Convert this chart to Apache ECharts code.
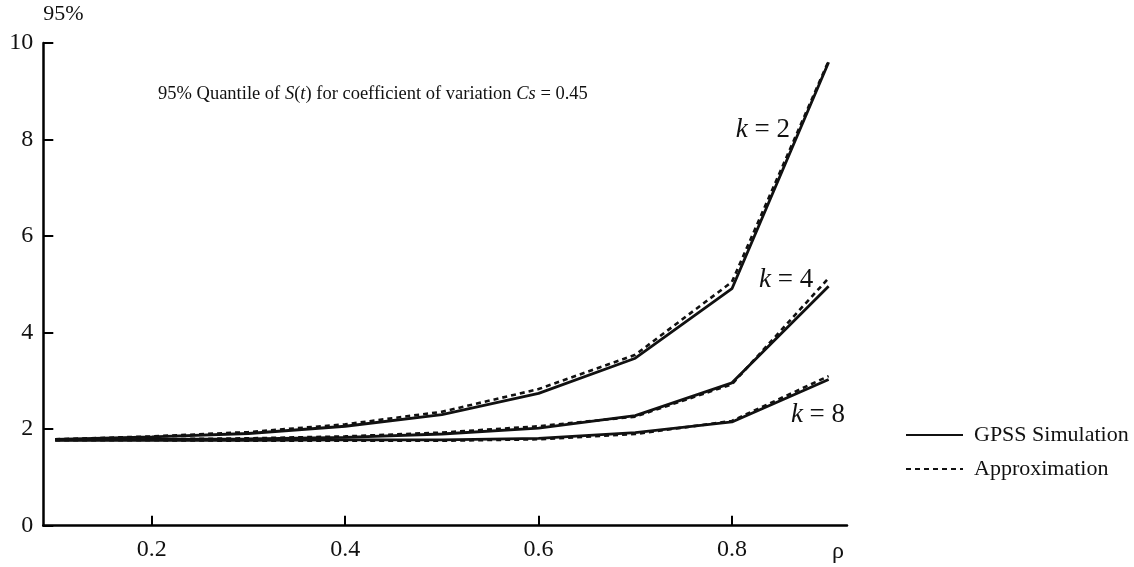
<!DOCTYPE html>
<html>
<head>
<meta charset="utf-8">
<script src="https://cdn.jsdelivr.net/npm/echarts@6/dist/echarts.min.js"></script>
<style>html,body{margin:0;padding:0;background:#fff}#c{width:1134px;height:567px}</style>
</head>
<body>
<div id="c"></div>
<script>
var rho = [0.1, 0.2, 0.3, 0.4, 0.5, 0.6, 0.7, 0.8, 0.9];
var xTicks = [0.2, 0.4, 0.6, 0.8];
var k2Sim = [1.79, 1.84, 1.91, 2.06, 2.30, 2.74, 3.47, 4.91, 9.60];
var k2App = [1.79, 1.85, 1.94, 2.10, 2.36, 2.83, 3.54, 5.05, 9.63];
var k4Sim = [1.78, 1.79, 1.80, 1.83, 1.90, 2.02, 2.28, 2.96, 4.96];
var k4App = [1.78, 1.79, 1.81, 1.85, 1.93, 2.06, 2.26, 2.93, 5.13];
var k8Sim = [1.77, 1.77, 1.77, 1.78, 1.78, 1.81, 1.93, 2.15, 3.03];
var k8App = [1.77, 1.77, 1.76, 1.76, 1.76, 1.79, 1.90, 2.17, 3.10];
var kLabels = [
  {text: '2', at: [0.832, 8.19]},
  {text: '4', at: [0.856, 5.09]},
  {text: '8', at: [0.889, 2.29]}
];

var FONT = '"Liberation Serif", "DejaVu Serif", serif';
function pairs(ys) { return rho.map(function (x, i) { return [x, ys[i]]; }); }
var richK = {
  i: {fontStyle: 'italic', fontFamily: FONT, fontSize: 27, color: '#111'},
  n: {fontFamily: FONT, fontSize: 27, color: '#111'}
};
function kMark(idx) {
  var l = kLabels[idx];
  return {
    symbol: 'none',
    data: [{
      coord: l.at, symbol: 'circle', symbolSize: 1,
      itemStyle: {color: 'rgba(0,0,0,0)'},
      label: {show: true, position: 'inside', formatter: '{i|k}{n| = ' + l.text + '}', rich: richK}
    }]
  };
}
function sim(name, ys, idx) {
  return {
    name: 'GPSS Simulation', type: 'line', data: pairs(ys), symbol: 'none',
    lineStyle: {color: '#111', width: 2.8, type: 'solid'}, itemStyle: {color: '#111'},
    z: 3, silent: true, markPoint: kMark(idx)
  };
}
function app(ys) {
  return {
    name: 'Approximation', type: 'line', data: pairs(ys), symbol: 'none',
    lineStyle: {color: '#111', width: 2.6, type: [5, 4]}, itemStyle: {color: '#111'},
    z: 2, silent: true
  };
}

var chart = echarts.init(document.getElementById('c'), null, {renderer: 'canvas'});
chart.setOption({
  animation: false,
  backgroundColor: '#fff',
  title: {
    text: '95% Quantile of {i|S}({i|t}) for coefficient of variation {i|Cs} = 0.45',
    left: 153, top: 80,
    textStyle: {
      fontFamily: FONT, fontSize: 18.5, fontWeight: 'normal', color: '#111',
      rich: {i: {fontStyle: 'italic', fontFamily: FONT, fontSize: 18.5, color: '#111'}}
    }
  },
  legend: {
    orient: 'vertical', left: 900, top: 419,
    itemWidth: 57, itemHeight: 14, itemGap: 12,
    data: ['GPSS Simulation', 'Approximation'],
    itemStyle: {color: 'rgba(0,0,0,0)', borderWidth: 0, opacity: 0},
    textStyle: {fontFamily: FONT, fontSize: 22, color: '#111', padding: [0, 0, 0, 6]},
    selectedMode: false
  },
  grid: {left: 43.3, right: 287, top: 43, bottom: 41.3, containLabel: false},
  xAxis: {
    type: 'value', min: 0.0877, max: 0.919,
    name: 'ρ', nameLocation: 'end', nameGap: -9,
    nameTextStyle: {fontFamily: FONT, fontSize: 24, color: '#111', align: 'center', verticalAlign: 'top', padding: [14, 0, 0, 0]},
    axisLine: {show: true, lineStyle: {color: '#000', width: 2.5}},
    axisTick: {show: true, inside: true, length: 10, lineStyle: {color: '#000', width: 2}, customValues: xTicks},
    axisLabel: {fontFamily: FONT, fontSize: 24, color: '#111', margin: 12, customValues: xTicks,
      formatter: function (v) { return v.toFixed(1); }},
    splitLine: {show: false}
  },
  yAxis: {
    type: 'value', min: 0, max: 10, interval: 2,
    name: '95%', nameLocation: 'end', nameGap: 18,
    nameTextStyle: {fontFamily: FONT, fontSize: 22, color: '#111', align: 'left'},
    axisLine: {show: true, lineStyle: {color: '#000', width: 2.5}},
    axisTick: {show: true, inside: true, length: 10, lineStyle: {color: '#000', width: 2}},
    axisLabel: {fontFamily: FONT, fontSize: 24, color: '#111', margin: 10},
    splitLine: {show: false}
  },
  series: [
    sim('k2', k2Sim, 0), app(k2App),
    sim('k4', k4Sim, 1), app(k4App),
    sim('k8', k8Sim, 2), app(k8App)
  ]
});
</script>
</body>
</html>
